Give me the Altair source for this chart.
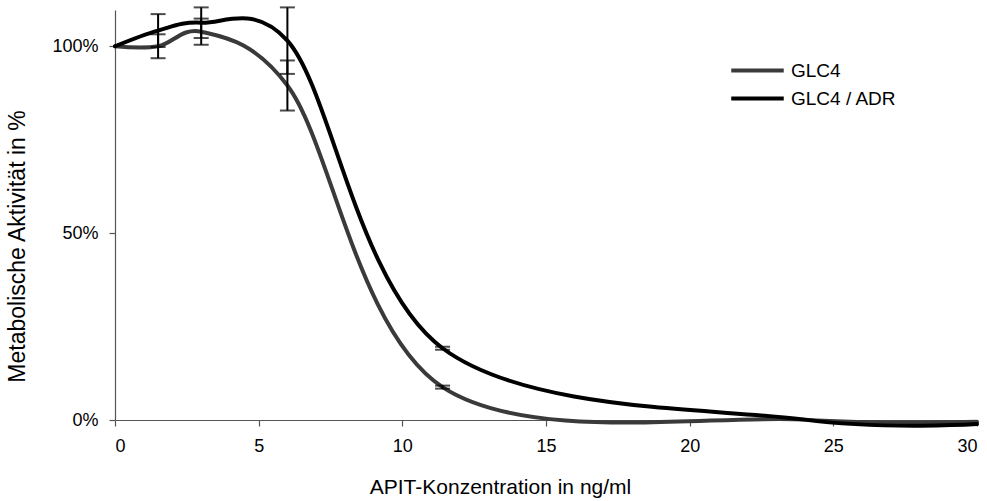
import altair as alt
import pandas as pd

# Data
conc = [0, 1.5, 3, 6, 11.4, 24, 30]
glc4 = [1.00, 1.00, 1.039, 0.895, 0.088, 0.001, -0.005]
glc4_err = [0, 0.032, 0.035, 0.067, 0.004, 0, 0]
adr = [1.00, 1.042, 1.063, 1.015, 0.192, 0.001, -0.011]
adr_err = [0, 0.044, 0.041, 0.089, 0.004, 0, 0]
series_names = ["GLC4", "GLC4 / ADR"]
series_colors = ["#3a3a3a", "#000000"]

rows = []
for name, vals, errs in [(series_names[0], glc4, glc4_err), (series_names[1], adr, adr_err)]:
    for i, (x, v, e) in enumerate(zip(conc, vals, errs)):
        rows.append({"series": name, "x": x, "y": v, "err": e,
                     "lo": v - e, "hi": v + e, "order": i})
df = pd.DataFrame(rows)

FONT = "Liberation Sans"

xenc = alt.X("x:Q", title="APIT-Konzentration in ng/ml",
             scale=alt.Scale(domain=[0, 30], nice=False, zero=False),
             axis=alt.Axis(values=[0, 5, 10, 15, 20, 25, 30], grid=False,
                           tickSize=6, labelPadding=11,
                           labelFontSize=18, titleFontSize=21,
                           titleFontWeight="normal",
                           titleX=385, titleY=67, titleBaseline="middle",
                           titleAlign="center"))
yenc = alt.Y("y:Q", title="Metabolische Aktivität in %",
             scale=alt.Scale(domain=[0, 1.097], nice=False, zero=False),
             axis=alt.Axis(values=[0, 0.5, 1.0], format=".0%", grid=False,
                           tickSize=6, labelPadding=11,
                           labelFontSize=18, titleFontSize=23,
                           titleFontWeight="normal",
                           titleX=-98, titleY=236, titleBaseline="middle",
                           titleAlign="center", titleAngle=270))

lines = alt.Chart(df).mark_line(interpolate="catmull-rom", tension=0.2,
                                strokeWidth=4, clip=False,
                                strokeCap="round").encode(
    x=xenc, y=yenc,
    order="order:O",
    color=alt.Color("series:N",
                    scale=alt.Scale(domain=series_names, range=series_colors),
                    legend=alt.Legend(title=None, orient="none",
                                      legendX=630, legendY=48,
                                      symbolType="M-2.5,0L2.5,0", symbolSize=441,
                                      symbolStrokeWidth=4, labelFontSize=19,
                                      labelFont=FONT, labelOffset=21,
                                      rowPadding=5, labelColor="black")),
)

eb = alt.Chart(df).transform_filter("datum.err > 0")
rules = eb.mark_rule(color="black", strokeWidth=2).encode(
    x="x:Q", y="lo:Q", y2="hi:Q")
cap_lo = eb.mark_tick(color="black", thickness=2, size=15,
                      orient="horizontal").encode(x="x:Q", y="lo:Q")
cap_hi = eb.mark_tick(color="black", thickness=2, size=15,
                      orient="horizontal").encode(x="x:Q", y="hi:Q")

chart = alt.layer(lines, rules, cap_lo, cap_hi).properties(
    width=862, height=410,
    padding={"left": 115, "top": 10, "right": 10, "bottom": 81},
    autosize="none",
    background="white",
).configure_view(stroke=None).configure_axis(
    labelFont=FONT, titleFont=FONT, labelColor="black", titleColor="black",
    domainColor="#555555", tickColor="#555555", domainWidth=1.2, tickWidth=1.2,
)

chart.save("out.html", embed_options={"renderer": "svg", "actions": False})
